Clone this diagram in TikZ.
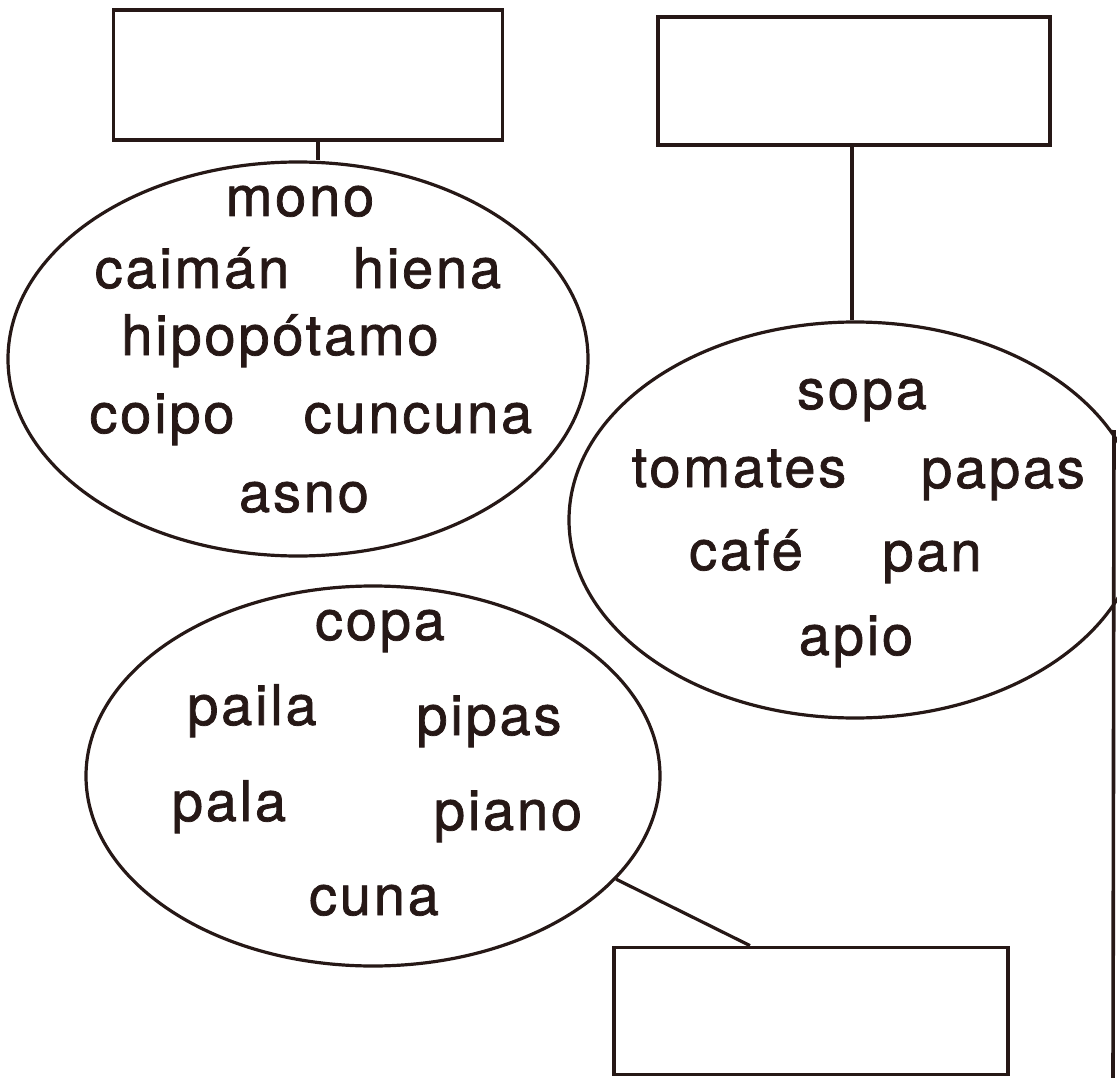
\documentclass[tikz,border=0pt]{standalone}
\usepackage{fontspec}
\setmainfont{TeX Gyre Heros}[LetterSpace=5, FakeBold=1.3]
\usetikzlibrary{shapes.geometric}
\definecolor{ink}{RGB}{38,24,22}
\begin{document}
\begin{tikzpicture}[
	x=1pt,
	y=-1pt,
	box/.style={draw=ink, line width=3.8pt, minimum width=392pt, minimum height=128pt, inner sep=0pt},
	cloud/.style={ellipse, draw=ink, line width=3.2pt, inner sep=0pt},
	word/.style={anchor=base, text=ink, inner sep=0pt, font=\fontsize{56}{60}\selectfont},
	link/.style={draw=ink, line width=3.2pt}
	]
	\useasboundingbox (0,0) rectangle (1117,1078);
	\clip (0,0) rectangle (1117,1078);

	% empty boxes
	\node[box, minimum width=389pt, minimum height=130pt] (boxA) at (308,75) {};
	\node[box] (boxB) at (854,81) {};
	\node[box, minimum width=394pt, minimum height=127pt] (boxC) at (811,1011) {};

	% word groups
	\node[cloud, minimum width=580pt, minimum height=394pt] (animals) at (298,359) {};
	\node[cloud, minimum width=572pt, minimum height=396pt] (food) at (855,520) {};
	\node[cloud, minimum width=574pt, minimum height=380pt] (things) at (373,776) {};

	\node[word] (mono) at (300,216) {mono};
	\node[word] (caiman) at (192,288) {caimán};
	\node[word] (hiena) at (427,288) {hiena};
	\node[word] (hipo) at (280,355) {hipopótamo};
	\node[word] (coipo) at (162,433) {coipo};
	\node[word] (cuncuna) at (418,433) {cuncuna};
	\node[word] (asno) at (304,512) {asno};

	\node[word] (sopa) at (862,409) {sopa};
	\node[word] (tomates) at (739,487) {tomates};
	\node[word] (papas) at (1003,488) {papas};
	\node[word] (cafe) at (746,570) {café};
	\node[word] (pan) at (932,571) {pan};
	\node[word] (apio) at (856,655) {apio};

	\node[word] (copa) at (380,640) {copa};
	\node[word] (paila) at (252,725) {paila};
	\node[word] (pipas) at (489,735) {pipas};
	\node[word] (pala) at (229,821) {pala};
	\node[word] (piano) at (508,830) {piano};
	\node[word] (cuna) at (374,915) {cuna};

	% connectors
	\draw[link] (boxA.south -| 318,0) -- (animals.north -| 318,0);
	\draw[link] (boxB.south -| 852,0) -- (food.north -| 852,0);
	\draw[link] (things.-23) -- (boxC.north -| 750,0);

	% page edge
	\draw[ink, line width=3.6pt] (1114,430) -- (1113,1078);
\end{tikzpicture}
\end{document}
